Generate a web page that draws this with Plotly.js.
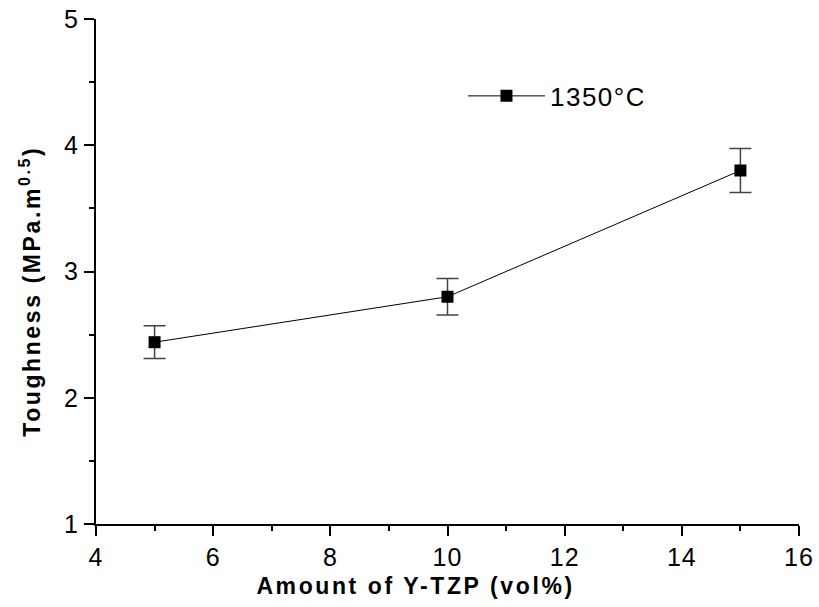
<!DOCTYPE html>
<html>
<head>
<meta charset="utf-8">
<script src="https://cdn.plot.ly/plotly-3.0.1.min.js"></script>
<style>
html,body{margin:0;padding:0;background:#fff;}
#chart{width:819px;height:607px;}
#chart .annotation-text{letter-spacing:2.6px;}
#chart .legendtext{letter-spacing:1.5px;}
#chart .xtick text,#chart .ytick text{letter-spacing:1px;}
</style>
</head>
<body>
<div id="chart"></div>
<script>
const seriesName = "1350°C";
const ytzpAmount = [5, 10, 15];
const toughness = [2.44, 2.80, 3.80];
const toughnessErr = [0.13, 0.145, 0.175];
const xTickVals = [4, 6, 8, 10, 12, 14, 16];
const yTickVals = [1, 2, 3, 4, 5];
const xTitle = "Amount of Y-TZP (vol%)";
const yTitle = "Toughness (MPa.m<sup>0.5</sup>)";

const font = "Liberation Sans, Arial, sans-serif";

const trace = {
  x: ytzpAmount,
  y: toughness,
  name: seriesName,
  type: "scatter",
  mode: "lines+markers",
  line: {color: "#000", width: 1},
  marker: {symbol: "square", size: 12, color: "#000"},
  error_y: {type: "data", array: toughnessErr, visible: true, color: "#444", thickness: 1.5, width: 11}
};

const axisCommon = {
  showline: true, linecolor: "#000", linewidth: 2,
  ticks: "outside", ticklen: 10, tickwidth: 2, tickcolor: "#000",
  showgrid: false, zeroline: false, mirror: false,
  tickfont: {family: font, size: 25, color: "#000"}
};

const titleFont = {family: font, size: 23, color: "#000", weight: "bold"};

const layout = {
  width: 819, height: 607,
  margin: {l: 96, r: 20, t: 19, b: 83},
  paper_bgcolor: "#fff", plot_bgcolor: "#fff",
  showlegend: true,
  legend: {
    x: 0.522, y: 0.8476, xanchor: "left", yanchor: "middle",
    bgcolor: "rgba(0,0,0,0)", itemwidth: 77,
    font: {family: font, size: 26, color: "#000"}
  },
  xaxis: Object.assign({}, axisCommon, {
    range: [4, 16], tickvals: xTickVals, ticktext: xTickVals.map(String),
    minor: {dtick: 1, ticks: "outside", ticklen: 5, tickwidth: 2, tickcolor: "#000", showgrid: false}
  }),
  yaxis: Object.assign({}, axisCommon, {
    range: [1, 5], tickvals: yTickVals, ticktext: yTickVals.map(String),
    minor: {dtick: 0.5, ticks: "outside", ticklen: 5, tickwidth: 2, tickcolor: "#000", showgrid: false}
  }),
  annotations: [
    {text: xTitle, xref: "paper", yref: "paper", x: 0.454, y: -0.123,
     xanchor: "center", yanchor: "middle", showarrow: false, font: titleFont},
    {text: yTitle, xref: "paper", yref: "paper", x: -0.093, y: 0.461, textangle: -90,
     xanchor: "center", yanchor: "middle", showarrow: false, font: titleFont}
  ]
};

Plotly.newPlot("chart", [trace], layout, {displayModeBar: false, staticPlot: true});
</script>
</body>
</html>
